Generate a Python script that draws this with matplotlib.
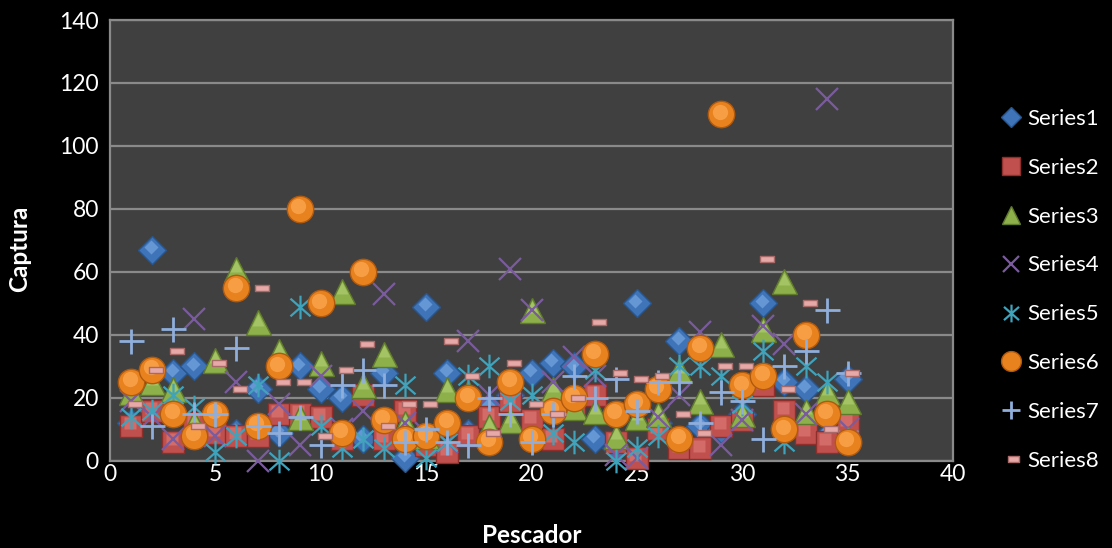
import numpy as np
import matplotlib
matplotlib.use("Agg")
import matplotlib.pyplot as plt
from matplotlib.path import Path

plt.rcParams["font.family"] = ["Lato", "DejaVu Sans"]

pescador = list(range(1, 36))

series1 = [12, 67, 28, 30, 10, 9, 23, 9, 30, 23, 20, 7, 28, 1, 49, 28, 9, 17,
           21, 28, 31, 30, 7, 4, 50, 12, 38, 11, 10, 15, 50, 25, 23, 8, 26]
series2 = [11, 16, 6, 12, 9, 8, 8, 15, 15, 14, 7, 21, 7, 16, 5, 3, 8, 14,
           19, 13, 7, 17, 21, 6, 1, 10, 4, 4, 11, 13, 24, 16, 9, 6, 12]
series3 = [22, 25, 23, 12, 32, 61, 44, 35, 14, 31, 54, 24, 34, 12, 8, 23, 22, 11,
           13, 48, 23, 17, 16, 8, 14, 15, 29, 19, 37, 15, 42, 57, 16, 22, 19]
series4 = [19, 14, 7, 45, 8, 25, 0, 18, 5, 27, 10, 16, 53, 12, 9, 6, 38, 21,
           61, 48, 25, 33, 27, 2, 1, 14, 21, 41, 5, 13, 43, 37, 15, 115, 10]
series5 = [14, 16, 21, 17, 3, 8, 24, 0, 49, 11, 4, 7, 4, 24, 1, 6, 27, 30,
           19, 21, 9, 6, 29, 0, 4, 8, 30, 30, 27, 18, 35, 6, 30, 25, 7]
series6 = [25, 29, 15, 8, 15, 55, 11, 30, 80, 50, 9, 60, 13, 7, 8, 12, 20, 6,
           25, 7, 16, 20, 34, 15, 18, 23, 7, 36, 110, 24, 27, 10, 40, 15, 6]
series7 = [38, 11, 42, 15, 15, 36, 11, 9, 14, 5, 24, 29, 24, 6, 10, 6, 5, 20,
           15, 6, 15, 27, 20, 26, 16, 25, 25, 12, 22, 19, 7, 30, 35, 48, 28]
series8 = [18, 29, 35, 11, 31, 23, 55, 25, 25, 8, 29, 37, 11, 18, 18, 38, 27, 9,
           31, 18, 15, 20, 44, 28, 26, 27, 15, 9, 30, 30, 64, 23, 50, 10, 28]

names = ["Series1", "Series2", "Series3", "Series4",
         "Series5", "Series6", "Series7", "Series8"]

# star marker: vertical bar crossed by an X
star = Path([(0, -1), (0, 1), (-0.85, -0.75), (0.85, 0.75),
             (-0.85, 0.75), (0.85, -0.75)],
            [Path.MOVETO, Path.LINETO] * 3)
# dash marker sits a little to the right of the data point
dash = Path([(-3.5, -3.5), (11.5, -3.5), (11.5, 3.5), (-3.5, 3.5), (-3.5, -3.5)],
            [Path.MOVETO, Path.LINETO, Path.LINETO, Path.LINETO, Path.CLOSEPOLY])

styles = [
    dict(marker="D", ms=14, mfc="#3F75B8", mec="#2A568E", mew=1.0),
    dict(marker="s", ms=16.5, mfc="#C0504D", mec="#8E2F2C", mew=1.0),
    dict(marker="^", ms=18, mfc="#8DB04A", mec="#5F7A2C", mew=1.0),
    dict(marker="x", ms=16, mec="#7A5C9E", mew=1.6),
    dict(marker=star, ms=17, mfc="none", mec="#3FA3BC", mew=1.6),
    dict(marker="o", ms=19, mfc="#E8821E", mec="#B05A10", mew=1.0),
    dict(marker="+", ms=18, mec="#8FAEDB", mew=2.0),
    dict(marker=dash, ms=16, mfc="#E6A9A7", mec="#A86A68", mew=1.0),
]
# lighter inner marks give the filled shapes a bit of relief
highlights = {
    0: dict(marker="D", ms=7, mfc="#6FA0DC", mec="none"),
    1: dict(marker="s", ms=8, mfc="#D9726F", mec="none"),
    2: dict(marker="^", ms=8, mfc="#A9C96B", mec="none"),
    5: dict(marker="o", ms=11, mfc="#FBA54E", mec="none"),
}

data = [series1, series2, series3, series4, series5, series6, series7, series8]

fig = plt.figure(figsize=(11.12, 5.48), dpi=100, facecolor="black")
ax = fig.add_axes([0.0989, 0.1588, 0.7582, 0.8047])
ax.set_facecolor("#404040")

handles = []
for i, (vals, st) in enumerate(zip(data, styles)):
    h, = ax.plot(pescador, vals, linestyle="none", zorder=3 + 2 * i,
                 label=names[i], clip_on=False, **st)
    handles.append(h)
    if i in highlights:
        hl = highlights[i]
        off = -0.12 if i != 2 else 0.0
        ax.plot(np.array(pescador) + off * 0.6, np.array(vals) + 0.9,
                linestyle="none", zorder=4 + 2 * i, alpha=0.8,
                clip_on=False, **hl)

ax.set_xlim(0, 40)
ax.set_ylim(0, 140)
ax.set_xticks(range(0, 41, 5))
ax.set_yticks(range(0, 141, 20))
ax.grid(axis="y", color="#8A8A8A", linewidth=1.6, zorder=1)
ax.set_axisbelow(True)
for side in ax.spines.values():
    side.set_color("#8A8A8A")
    side.set_linewidth(1.6)
ax.tick_params(colors="white", labelsize=16.5, length=0)
ax.tick_params(axis="x", pad=2)
ax.tick_params(axis="y", pad=8)

ax.set_xlabel("Pescador", color="white", fontsize=17.5, fontweight="bold")
ax.set_ylabel("Captura", color="white", fontsize=17.5, fontweight="bold")
ax.xaxis.set_label_coords(0.5, -0.143)
ax.yaxis.set_label_coords(-0.093, 0.48)

leg = fig.legend(handles=handles, loc="upper left",
                 bbox_to_anchor=(0.881, 0.838), frameon=False,
                 fontsize=16, labelcolor="white", labelspacing=1.3,
                 handlelength=1.0, handletextpad=0.25, markerscale=0.75)

fig.savefig("out.png", dpi=100, facecolor="black")
